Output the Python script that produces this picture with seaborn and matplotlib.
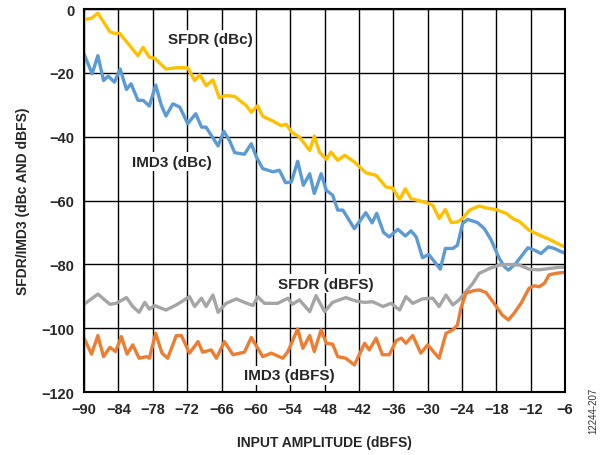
import matplotlib
matplotlib.use("Agg")
import matplotlib.pyplot as plt
import seaborn as sns
import pandas as pd

# ---- data ----
sfdr_dbc_x = [-90, -88.7, -87.6, -85.5, -84.7, -83.8, -80.6, -79.7, -78.6, -77.7, -75.7, -73.9,
              -71.9, -70.7, -69.8, -68.7, -67.5, -66.4, -65.2, -63.7, -61.7, -60.8, -59.7, -58.8,
              -57.0, -55.6, -54.7, -53.8, -52.4, -50.6, -49.8, -48.9, -47.7, -46.9, -45.7, -44.5,
              -42.8, -40.8, -39.0, -37.3, -36.1, -34.9, -33.9, -32.9, -30.3, -29.1, -28.0, -26.9,
              -25.9, -24.8, -23.9, -22.7, -21.0, -19.8, -18.1, -16.3, -14.9, -14.0, -12.3, -10.5,
              -8.8, -6.7, -6.0]
sfdr_dbc_y = [-3.3, -2.9, -1.3, -7.1, -7.6, -7.6, -14.6, -12.0, -15.1, -15.4, -18.8, -18.4,
              -18.4, -22.4, -20.6, -24.0, -22.2, -27.8, -27.1, -27.4, -30.2, -32.3, -30.3, -33.6,
              -35.1, -36.5, -36.1, -38.5, -40.1, -44.3, -39.8, -44.8, -47.1, -44.8, -47.4, -45.8,
              -47.9, -51.3, -52.1, -55.7, -56.1, -59.7, -56.3, -59.4, -60.6, -61.5, -65.6, -62.8,
              -66.9, -66.7, -65.6, -63.0, -61.7, -62.3, -62.8, -64.0, -65.9, -66.5, -69.3, -70.8,
              -72.1, -74.0, -74.5]

imd3_dbc_x = [-90, -88.6, -87.6, -86.6, -85.8, -84.7, -83.7, -82.6, -81.8, -80.6, -79.7, -78.6,
              -77.5, -76.5, -75.7, -74.5, -73.3, -71.9, -70.5, -69.5, -68.7, -66.6, -65.6, -64.6,
              -63.7, -62.0, -60.8, -59.9, -58.8, -57.0, -55.9, -54.8, -53.8, -52.7, -51.7, -50.6,
              -49.8, -48.6, -47.7, -46.6, -45.7, -44.8, -42.8, -40.8, -39.7, -38.9, -37.7, -36.7,
              -35.2, -33.9, -32.9, -32.0, -30.9, -29.8, -27.8, -26.9, -25.6, -24.8, -23.9, -23.0,
              -21.3, -20.1, -18.9, -17.5, -16.6, -15.9, -14.6, -13.7, -12.5, -11.4, -10.2, -8.9,
              -7.9, -6.7, -6.0]
imd3_dbc_y = [-14.1, -20.3, -14.6, -22.4, -21.0, -22.9, -18.8, -25.2, -23.4, -28.6, -28.6, -30.4,
              -23.8, -30.2, -33.5, -29.7, -30.7, -35.9, -32.8, -37.0, -37.0, -42.9, -38.3, -41.2,
              -45.0, -45.5, -42.2, -46.4, -50.0, -51.0, -50.5, -54.4, -54.2, -47.7, -55.2, -51.6,
              -57.8, -51.6, -56.8, -58.3, -63.0, -63.0, -68.8, -63.8, -67.0, -64.0, -70.0, -71.4,
              -69.0, -71.1, -69.5, -71.4, -77.9, -76.9, -81.5, -75.0, -75.0, -74.0, -67.2, -65.9,
              -66.9, -68.8, -72.4, -78.1, -80.7, -81.8, -79.7, -77.6, -74.8, -75.5, -76.6, -74.5,
              -75.0, -76.0, -76.5]

sfdr_dbfs_x = [-90, -87.6, -85.5, -84.4, -82.6, -81.5, -80.4, -79.4, -78.6, -77.7, -75.7, -73.9,
               -71.6, -70.7, -69.5, -68.7, -67.5, -66.6, -65.2, -63.4, -62.0, -60.5, -59.7, -58.5,
               -56.2, -54.4, -53.6, -52.4, -50.6, -49.5, -48.0, -46.6, -44.3, -42.5, -41.0, -39.6,
               -37.8, -36.4, -34.9, -33.8, -32.6, -30.9, -29.1, -28.0, -26.8, -25.6, -24.5, -23.3,
               -22.1, -21.0, -19.2, -17.5, -15.8, -14.0, -12.3, -10.5, -8.8, -7.0, -6.0]
sfdr_dbfs_y = [-92.5, -89.3, -92.5, -92.2, -90.4, -93.2, -95.0, -91.9, -94.0, -92.9, -94.3, -92.7,
               -90.1, -93.2, -90.6, -93.2, -89.6, -95.0, -92.2, -90.8, -91.9, -92.9, -90.1, -92.2,
               -92.2, -90.6, -92.5, -91.1, -94.8, -89.8, -94.8, -91.9, -90.4, -91.5, -91.9, -91.7,
               -93.2, -92.2, -94.3, -90.1, -92.2, -90.8, -90.6, -93.2, -89.6, -92.7, -91.1, -88.5,
               -85.9, -82.8, -81.3, -80.2, -80.0, -80.2, -81.5, -81.7, -81.3, -80.9, -80.9]

imd3_dbfs_x = [-90, -88.7, -87.6, -86.6, -85.5, -84.5, -83.5, -82.5, -81.5, -80.4, -79.1, -78.6,
               -77.5, -76.4, -75.4, -73.9, -73.0, -71.6, -70.1, -69.3, -67.8, -66.9, -65.5, -64.0,
               -62.0, -60.8, -58.8, -57.3, -55.3, -54.4, -52.7, -51.8, -50.6, -49.8, -48.6, -47.7,
               -46.6, -45.7, -44.3, -42.8, -41.0, -40.2, -39.0, -37.9, -36.7, -35.5, -34.6, -33.8,
               -32.6, -31.2, -30.0, -28.0, -26.8, -25.6, -24.8, -24.2, -23.3, -21.9, -21.0, -19.8,
               -18.4, -17.0, -15.9, -14.9, -13.7, -12.3, -11.4, -10.5, -9.6, -8.8, -7.6, -6.7, -6.0]
imd3_dbfs_y = [-103.1, -108.1, -102.3, -108.9, -106.0, -107.3, -102.6, -108.1, -105.2, -109.4, -108.9, -109.4,
               -101.6, -107.8, -109.4, -102.3, -102.3, -107.8, -104.2, -107.5, -106.8, -109.4, -104.2, -108.3,
               -107.5, -102.9, -108.9, -107.8, -109.4, -107.3, -100.2, -106.3, -102.3, -107.3, -100.5, -104.7,
               -105.0, -108.9, -109.4, -111.5, -104.7, -106.8, -103.1, -108.3, -108.3, -103.9, -103.1, -104.7,
               -102.3, -107.8, -105.2, -109.4, -101.6, -100.5, -99.0, -93.8, -89.0, -88.2, -88.0, -88.8,
               -92.2, -95.8, -97.4, -95.3, -92.2, -87.5, -86.7, -87.0, -85.9, -83.3, -82.8, -82.6, -82.5]

x_ticks = [-90, -84, -78, -72, -66, -60, -54, -48, -42, -36, -30, -24, -18, -12, -6]
y_ticks = [-120, -100, -80, -60, -40, -20, 0]

series = [
    ("SFDR (dBc)", sfdr_dbc_x, sfdr_dbc_y, "#FFC000"),
    ("IMD3 (dBc)", imd3_dbc_x, imd3_dbc_y, "#5B9BD5"),
    ("SFDR (dBFS)", sfdr_dbfs_x, sfdr_dbfs_y, "#A5A5A5"),
    ("IMD3 (dBFS)", imd3_dbfs_x, imd3_dbfs_y, "#ED7D31"),
]
labels_pos = {"SFDR (dBc)": (-68.0, -9.4), "IMD3 (dBc)": (-74.7, -47.8),
              "SFDR (dBFS)": (-47.7, -86.0), "IMD3 (dBFS)": (-54.1, -114.8)}

sns.set_style("white")
plt.rcParams['font.family'] = ['Liberation Sans', 'DejaVu Sans']
plt.rcParams['font.weight'] = 'bold'

fig = plt.figure(figsize=(6.05, 4.56), dpi=100)
ax = fig.add_axes([0.139, 0.138, 0.795, 0.840])

for name, xs, ys, col in series:
    df = pd.DataFrame({"x": xs, "y": ys})
    sns.lineplot(data=df, x="x", y="y", ax=ax, color=col, linewidth=2.4,
                 sort=False, estimator=None, zorder=3)

for name, (tx, ty) in labels_pos.items():
    ax.text(tx, ty, name, fontsize=11, fontweight='bold', ha='center', va='center',
            zorder=4, bbox=dict(facecolor='white', edgecolor='none', pad=1.5))

ax.set_xlim(-90, -6)
ax.set_ylim(-120, 0)
ax.set_xticks(x_ticks)
ax.set_yticks(y_ticks)
ax.set_xticklabels([f"\u2212{abs(v)}" if v < 0 else str(v) for v in x_ticks])
ax.set_yticklabels([f"\u2212{abs(v)}" if v < 0 else str(v) for v in y_ticks])
ax.tick_params(axis='both', length=0, pad=7, labelsize=10.5)
for lab in ax.get_xticklabels() + ax.get_yticklabels():
    lab.set_fontweight('bold')
ax.grid(True, color='black', linewidth=1.0)
ax.set_axisbelow(True)
for sp in ax.spines.values():
    sp.set_color('black')
    sp.set_linewidth(1.5)
    sp.set_zorder(5)

ax.set_xlabel("INPUT AMPLITUDE (dBFS)", fontsize=10, fontweight='bold', labelpad=14)
ax.set_ylabel("SFDR/IMD3 (dBc AND dBFS)", fontsize=10, fontweight='bold', labelpad=8)

fig.text(0.981, 0.10, "12244-207", rotation=90, fontsize=7, fontweight='normal',
         ha='center', va='center', color='#333333')

fig.savefig("out.png", dpi=100)
